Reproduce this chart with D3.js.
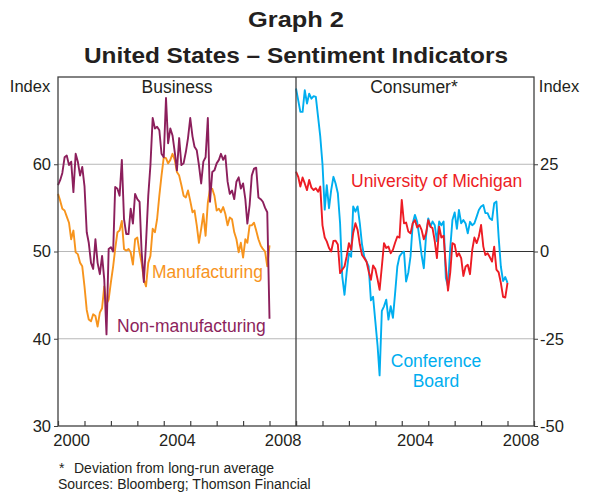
<!DOCTYPE html>
<html>
<head>
<meta charset="utf-8">
<script src="https://cdn.jsdelivr.net/npm/d3@7"></script>
<style>
  body { margin: 0; background: #fff; }
  svg { display: block; font-family: Arial, "Liberation Sans", sans-serif; }
</style>
</head>
<body>
<svg></svg>
<script>
var width = 590;
var height = 494;

// monthly observations, Jan 2000 to Jan 2008
var months = d3.timeMonth.range(new Date(2000, 0, 1), new Date(2008, 1, 1));

var manufacturing = [
  56.6, 55.8, 54.9, 54.7, 54.0, 53.3, 51.4, 52.4, 49.9, 49.7,
  48.7, 48.3, 46.0, 43.3, 42.2, 42.0, 42.8, 42.6, 41.4, 43.0,
  43.5, 46.0, 44.0, 44.5, 46.5, 48.3, 50.3, 52.2, 52.4, 53.5,
  50.3, 50.1, 50.3, 49.9, 48.5, 51.4, 51.6, 49.9, 48.7, 46.8,
  46.0, 48.7, 49.5, 52.6, 52.2, 53.7, 56.4, 58.7, 60.8, 60.7,
  60.1, 60.5, 61.2, 60.5, 59.1, 58.7, 57.6, 56.4, 56.2, 57.0,
  55.8, 54.5, 54.7, 53.0, 51.0, 52.6, 54.3, 51.8, 55.6, 57.2,
  57.2, 56.4, 54.7, 54.9, 54.5, 55.1, 54.3, 53.0, 53.9, 53.7,
  52.2, 51.4, 49.9, 51.0, 49.3, 51.4, 51.0, 53.0, 53.0, 53.3,
  52.4, 51.4, 50.7, 50.3, 50.0, 48.3, 50.7
];

var nonManufacturing = [
  57.6, 58.2, 59.0, 60.8, 61.0, 59.9, 60.3, 56.8, 61.2, 60.3,
  58.7, 59.7, 57.5, 52.2, 51.0, 48.7, 48.0, 51.4, 48.7, 47.4,
  49.5, 46.8, 40.5, 50.3, 50.5, 50.0, 57.4, 57.2, 56.4, 60.5,
  53.7, 52.0, 52.0, 54.9, 53.2, 56.6, 56.0, 55.7, 50.0, 46.5,
  51.0, 56.4, 59.9, 65.3, 64.1, 64.3, 63.9, 61.2, 60.8, 67.6,
  62.4, 64.1, 63.3, 61.4, 59.3, 63.0, 59.9, 60.1, 61.4, 63.0,
  65.3, 63.2, 62.0, 61.6, 59.9, 57.8, 60.3, 60.8, 65.3, 55.7,
  59.1, 59.3, 60.1, 60.5, 61.2, 60.5, 61.0, 58.0, 56.6, 57.0,
  56.0, 58.0, 58.5, 57.2, 57.8, 56.0, 53.2, 55.3, 58.7, 59.5,
  59.6, 56.2, 56.0, 55.7, 55.0, 54.5, 42.3
];

var michigan = [
  22.9, 21.4, 18.6, 21.2, 19.5, 17.6, 20.5, 18.3, 17.6, 18.1,
  17.1, 18.6, 7.5, 4.0, 2.9, 1.0, 0.0, 3.0, 3.1, 2.0,
  -6.2, -5.2, -4.3, -1.4, 2.4, 0.5, 5.3, 8.1, 6.2, 2.0,
  -1.0, -1.9, -2.9, -5.7, -8.1, -4.0, -5.0, -8.0, -11.0, -4.3,
  2.4, 1.0, 1.4, -0.5, 0.5, 2.5, 4.3, 4.0, 14.8, 8.1,
  8.3, 5.7, 5.2, 8.1, 9.0, 6.9, 7.6, 6.2, 3.5, 5.2,
  9.0, 7.1, 6.7, 3.0, -1.9, 7.1, 4.0, 4.5, -4.3, -11.2,
  -6.0, 2.4, 2.0, -1.4, -0.5, -1.9, -7.0, -4.3, -3.8, -6.5,
  0.5, 4.0, 2.4, 4.3, 7.6, 1.4, -1.0, -0.5, -1.6, -2.9,
  1.4, -5.2, -6.0, -9.0, -13.0, -13.2, -9.0
];

var conferenceBoard = [
  46.7, 43.3, 40.0, 40.0, 46.2, 42.4, 45.2, 43.8, 44.5, 44.3,
  38.6, 33.0, 25.0, 12.0, 19.0, 12.4, 17.6, 21.4, 19.5, 16.7,
  8.1, -7.1, -12.4, -6.0, -0.5, -1.5, 12.9, 11.4, 12.9, 8.0,
  2.0, -1.5, -2.9, -4.3, -14.0, -13.0, -20.0, -27.0, -35.5, -17.0,
  -15.7, -13.8, -19.5, -15.7, -19.0, -12.0, -4.3, -1.4, -0.5, 0.0,
  -8.6, -6.0, -1.4, 8.1, 10.5, 8.5, 4.0, -1.0, -4.8, 4.3,
  9.5, 7.1, 8.6, 7.5, 2.9, 8.6, 7.5, 8.6, -7.6, -10.0,
  1.0, 9.0, 11.2, 6.5, 11.9, 8.1, 9.0, 8.0, 5.2, 8.5,
  7.5, 8.1, 10.0, 11.9, 12.9, 13.3, 11.0, 11.0, 9.5, 9.0,
  13.8, 14.3, 4.0, -4.3, -8.5, -7.3, -9.0
];

var leftTicks = [30, 40, 50, 60];
var rightTicks = [-50, -25, 0, 25];
var leftYearLabels = [2000, 2004, 2008];
var rightYearLabels = [2004, 2008];

var colors = {
  manufacturing: '#f7941d',
  nonManufacturing: '#8c1f5c',
  michigan: '#ed1c24',
  conference: '#00aeef',
  text: '#231f20',
  frame: '#404040',
  grid: '#b8b8b8'
};

var plotLeft = 58, plotMid = 296, plotRight = 534, plotTop = 77, plotBottom = 426;

var svg = d3.select('svg')
    .attr('width', width)
    .attr('height', height);

var xLeft = d3.scaleTime()
    .domain([new Date(2000, 0, 1), new Date(2009, 0, 1)])
    .range([plotLeft, plotMid]);
var xRight = d3.scaleTime()
    .domain([new Date(2000, 0, 1), new Date(2009, 0, 1)])
    .range([plotMid, plotRight]);
var yLeft = d3.scaleLinear().domain([30, 70]).range([plotBottom, plotTop]);
var yRight = d3.scaleLinear().domain([-50, 50]).range([plotBottom, plotTop]);

// gridlines
svg.append('g')
    .selectAll('line')
    .data([40, 50, 60])
    .enter().append('line')
    .attr('x1', plotLeft).attr('x2', plotMid)
    .attr('y1', function(d) { return yLeft(d); })
    .attr('y2', function(d) { return yLeft(d); })
    .attr('stroke', colors.grid)
    .attr('stroke-width', 1);

svg.append('g')
    .selectAll('line')
    .data([-25, 0, 25])
    .enter().append('line')
    .attr('x1', plotMid).attr('x2', plotRight)
    .attr('y1', function(d) { return yRight(d); })
    .attr('y2', function(d) { return yRight(d); })
    .attr('stroke', function(d) { return d === 0 ? '#333' : colors.grid; })
    .attr('stroke-width', 1);

// lines
function drawLine(values, x, y, color) {
  var line = d3.line()
      .x(function(d, i) { return x(months[i]); })
      .y(function(d) { return y(d); });
  svg.append('path')
      .datum(values)
      .attr('fill', 'none')
      .attr('stroke', color)
      .attr('stroke-width', 1.9)
      .attr('stroke-linejoin', 'round')
      .attr('d', line);
}

drawLine(manufacturing, xLeft, yLeft, colors.manufacturing);
drawLine(nonManufacturing, xLeft, yLeft, colors.nonManufacturing);
drawLine(conferenceBoard, xRight, yRight, colors.conference);
drawLine(michigan, xRight, yRight, colors.michigan);

// frame
svg.append('rect')
    .attr('x', plotLeft).attr('y', plotTop)
    .attr('width', plotRight - plotLeft).attr('height', plotBottom - plotTop)
    .attr('fill', 'none')
    .attr('stroke', colors.frame)
    .attr('stroke-width', 1.3);
svg.append('line')
    .attr('x1', plotMid).attr('x2', plotMid)
    .attr('y1', plotTop).attr('y2', plotBottom)
    .attr('stroke', colors.frame)
    .attr('stroke-width', 1.3);

// x ticks (yearly, pointing inward)
function yearTicks(x) {
  var g = svg.append('g')
      .attr('transform', 'translate(0,' + plotBottom + ')')
      .call(d3.axisBottom(x)
          .ticks(d3.timeYear.every(1))
          .tickSizeInner(-5)
          .tickSizeOuter(0)
          .tickFormat(''));
  g.select('.domain').remove();
  g.selectAll('line').attr('stroke', colors.frame).attr('stroke-width', 1.2);
}
yearTicks(xLeft);
yearTicks(xRight);

function yearLabels(x, years) {
  var g = svg.append('g')
      .attr('transform', 'translate(0,' + plotBottom + ')')
      .call(d3.axisBottom(x)
          .tickValues(years.map(function(y) { return new Date(y, 6, 1); }))
          .tickSize(0)
          .tickPadding(8)
          .tickFormat(d3.timeFormat('%Y')));
  g.select('.domain').remove();
  g.selectAll('text')
      .attr('fill', colors.text)
      .style('font-size', '16.5px')
      .style('font-family', 'Arial, "Liberation Sans", sans-serif');
}
yearLabels(xLeft, leftYearLabels);
yearLabels(xRight, rightYearLabels);

// y axes
function plainNumber(d) { return String(d); }

var gl = svg.append('g')
    .attr('transform', 'translate(' + plotLeft + ',0)')
    .call(d3.axisLeft(yLeft).tickValues(leftTicks).tickSize(4).tickPadding(3)
        .tickFormat(plainNumber));
gl.select('.domain').remove();
gl.selectAll('line').attr('stroke', colors.frame);
gl.selectAll('text').attr('fill', colors.text)
    .style('font-size', '16.5px')
    .style('font-family', 'Arial, "Liberation Sans", sans-serif');

var gr = svg.append('g')
    .attr('transform', 'translate(' + plotRight + ',0)')
    .call(d3.axisRight(yRight).tickValues(rightTicks).tickSize(4).tickPadding(2)
        .tickFormat(plainNumber));
gr.select('.domain').remove();
gr.selectAll('line').attr('stroke', colors.frame);
gr.selectAll('text').attr('fill', colors.text)
    .style('font-size', '16.5px')
    .style('font-family', 'Arial, "Liberation Sans", sans-serif');

// titles and labels
function label(txt, x, y, opts) {
  opts = opts || {};
  var t = svg.append('text')
      .attr('x', x).attr('y', y)
      .attr('text-anchor', opts.anchor || 'middle')
      .attr('fill', opts.color || colors.text)
      .style('font-size', (opts.size || 17) + 'px')
      .style('font-weight', opts.weight || 'normal')
      .text(txt);
  if (opts.len) {
    t.attr('textLength', opts.len).attr('lengthAdjust', 'spacingAndGlyphs');
  }
  return t;
}

label('Graph 2', 296, 27, { size: 22, weight: 'bold', len: 96 });
label('United States \u2013 Sentiment Indicators', 296, 63, { size: 22, weight: 'bold', len: 424 });

label('Index', 30, 92, { size: 16.5 });
label('Index', 559, 92, { size: 16.5 });

label('Business', 177, 93, { size: 17.5 });
label('Consumer*', 414, 93, { size: 17.5 });

label('Manufacturing', 152, 278, { size: 17.5, anchor: 'start', color: colors.manufacturing });
label('Non-manufacturing', 117, 332, { size: 17.5, anchor: 'start', color: colors.nonManufacturing });
label('University of Michigan', 351, 187, { size: 17.5, anchor: 'start', color: colors.michigan });
label('Conference', 436, 367, { size: 17.5, color: colors.conference });
label('Board', 436, 387, { size: 17.5, color: colors.conference });

label('*', 59, 473, { size: 14, anchor: 'start' });
label('Deviation from long-run average', 74, 473, { size: 14, anchor: 'start' });
label('Sources: Bloomberg; Thomson Financial', 58, 489, { size: 14, anchor: 'start' });
</script>
</body>
</html>
